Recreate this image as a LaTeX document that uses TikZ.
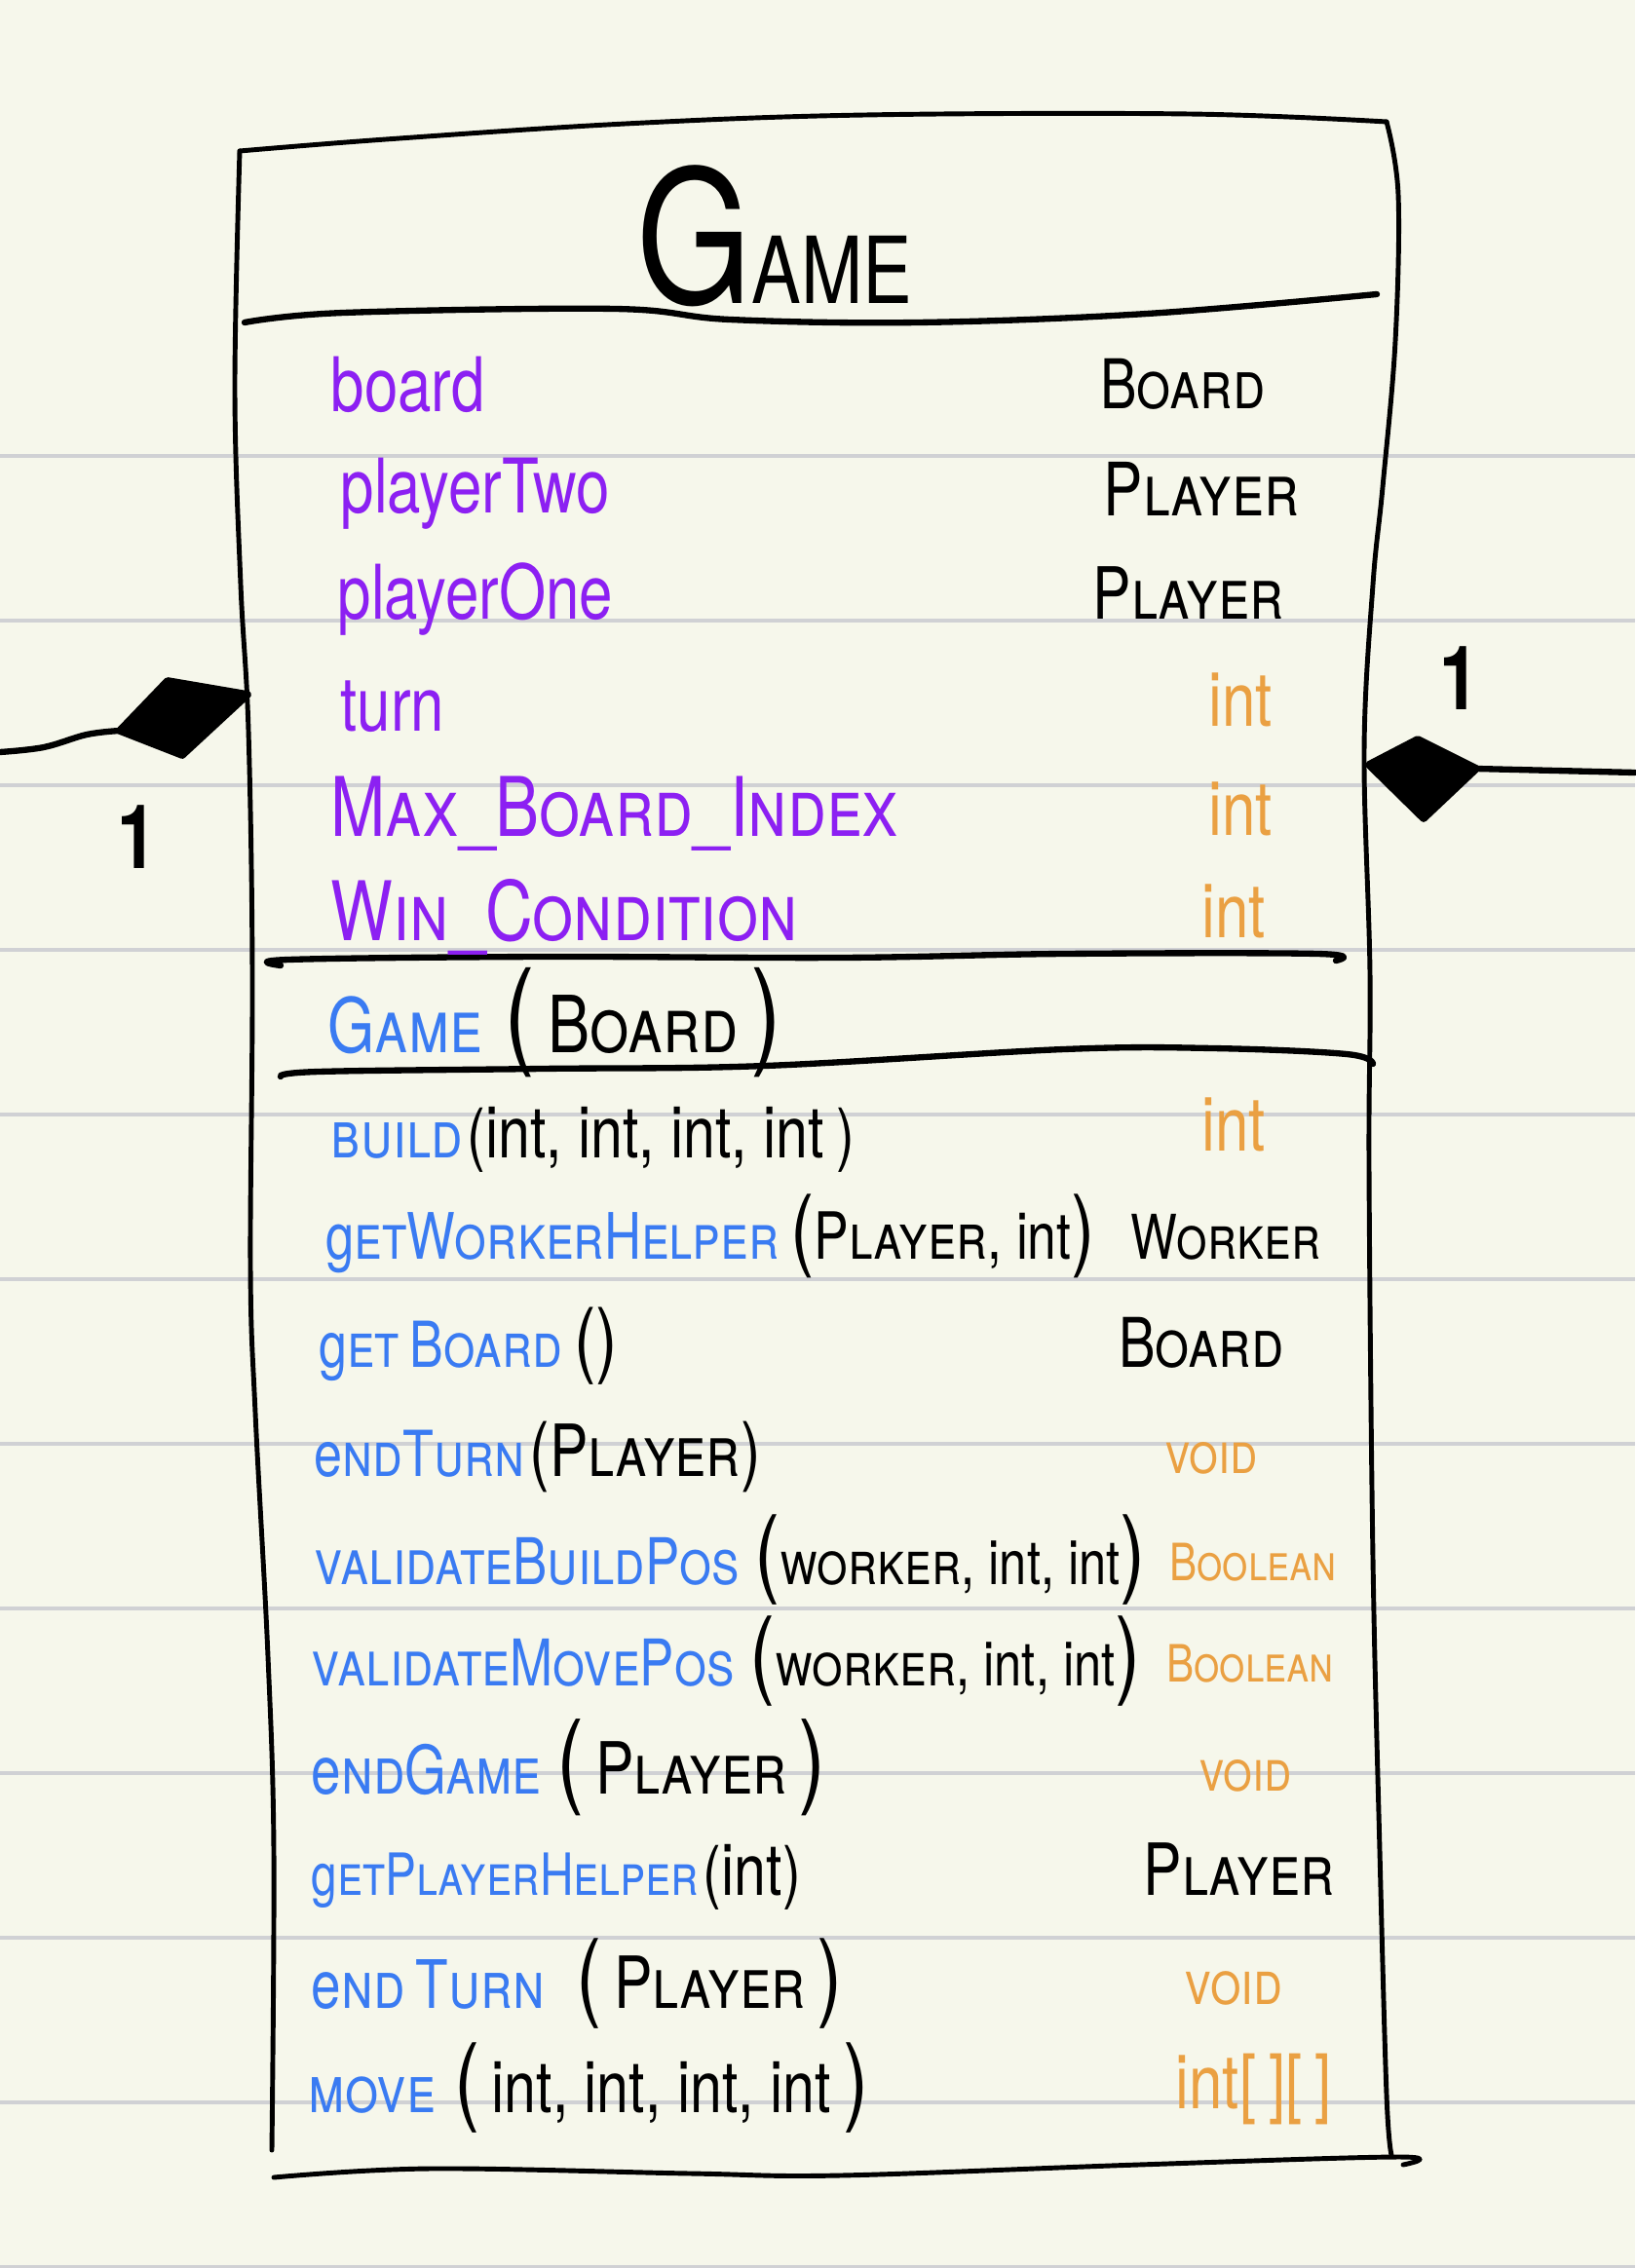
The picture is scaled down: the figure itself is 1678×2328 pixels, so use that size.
\documentclass[tikz,border=0pt]{standalone}
\usepackage{fontspec}
\setmainfont[FakeStretch=0.8]{TeX Gyre Heros}
\usetikzlibrary{positioning}

\definecolor{paper}{RGB}{246,247,235}
\definecolor{ruleline}{RGB}{208,209,212}
\definecolor{attrpurple}{RGB}{140,32,242}
\definecolor{methblue}{RGB}{58,123,242}
\definecolor{typeorange}{RGB}{234,160,66}

\newcommand{\lpar}[1]{{\fontsize{#1}{#1}\selectfont(}}
\newcommand{\rpar}[1]{{\fontsize{#1}{#1}\selectfont)}}
\newcommand{\msize}[1]{\fontsize{#1}{24}\selectfont\scshape}

\begin{document}
\begin{tikzpicture}[
        x=0.01cm, y=-0.01cm,
        attr/.style={anchor=base west, inner sep=0pt, text=attrpurple,
            font=\fontsize{22}{26}\selectfont},
        meth/.style={anchor=base west, inner sep=0pt, text=methblue,
            font=\msize{19.5}},
        params/.style={anchor=base west, inner sep=0pt, text=black,
            font=\fontsize{21}{24}\selectfont},
        ktype/.style={anchor=base west, inner sep=0pt, text=black,
            font=\msize{20}},
        ptype/.style={anchor=base west, inner sep=0pt, text=typeorange,
            font=\fontsize{22}{24}\selectfont},
        mult/.style={anchor=base, inner sep=0pt, font=\fontsize{26}{26}\selectfont\bfseries},
        boxline/.style={line width=1.4pt, line cap=round, line join=round},
        divider/.style={line width=1.8pt, line cap=round, line join=round},
        ruling/.style={draw=ruleline, line width=1.4pt},
        diamondfill/.style={fill=black, draw=black, line width=2.2pt, line join=round}
    ]
    % paper
    \fill[paper] (0,0) rectangle (1678,2328);
    \useasboundingbox (0,0) rectangle (1678,2328);
    \draw[ruling] (0,468) -- (1678,468)  (0,637) -- (1678,637)
        (0,806) -- (1678,806)  (0,975) -- (1678,975)
        (0,1144) -- (1678,1144)  (0,1313) -- (1678,1313)
        (0,1482) -- (1678,1482)  (0,1651) -- (1678,1651)
        (0,1820) -- (1678,1820)  (0,1989) -- (1678,1989)
        (0,2158) -- (1678,2158)  (0,2327) -- (1678,2327);

    % class box
    \draw[boxline] plot[smooth, tension=0.6] coordinates {(246,155) (396,143) (642,127) (888,118) (1220,117) (1423,125)};
    \draw[boxline] plot[smooth, tension=0.6] coordinates {(1423,125) (1435,200) (1432,350) (1419,500) (1409,600) (1400,770) (1406,1000) (1405,1200) (1409,1600) (1416,1900) (1423,2150) (1428,2212)};
    \draw[boxline] plot[smooth, tension=0.6] coordinates {(246,155) (241,400) (247,600) (255,750) (259,1000) (257,1300) (262,1450) (275,1700) (281,1900) (279,2207)};
    \draw[boxline] plot[smooth, tension=0.6] coordinates {(281,2235) (441,2226) (709,2231) (862,2233) (1168,2222) (1436,2214) (1440,2222)};

    % compartments
    \draw[divider] plot[smooth, tension=0.6] coordinates {(251,331) (353,321) (631,317) (749,328) (942,331) (1177,322) (1413,302)};
    \draw[divider] plot[smooth, tension=0.6] coordinates {(288,991) (296,985) (556,982) (862,983) (1092,979) (1352,979) (1371,986)};
    \draw[divider] plot[smooth, tension=0.6] coordinates {(288,1105) (327,1100) (556,1097) (785,1094) (1092,1077) (1245,1076) (1382,1082) (1409,1092)};

    % title
    \node[anchor=base west, inner sep=0pt] (title) at (653,312)
        {{\fontsize{54}{54}\selectfont G}{\fontsize{27}{27}\selectfont AME}};

    % attributes
    \node[attr] (a1) at (339,423) {board};
    \node[attr] (a2) at (349,527) {playerTwo};
    \node[attr] (a3) at (346,636) {playerOne};
    \node[attr] (a4) at (349,750) {turn};
    \node[attr, font=\msize{24}] (a5) at (339,858) {Max\_Board\_Index};
    \node[attr, font=\msize{24}] (a6) at (339,965) {Win\_Condition};

    \node[ktype] (t1) at (1129,420) {Board};
    \node[ktype, font=\msize{21.5}] (t2) at (1132,530) {Player};
    \node[ktype, font=\msize{21}] (t3) at (1121,636) {Player};
    \node[ptype] (t4) at (1240,745) {int};
    \node[ptype] (t5) at (1240,857) {int};
    \node[ptype] (t6) at (1233,962) {int};

    % constructor
    \node[meth, font=\msize{22}] (ctor) at (336,1080) {Game};
    \node[params, font=\msize{23}] (ctorp) at ([xshift=6pt]ctor.base east)
        {\lpar{34}\,Board\,\rpar{34}};

    % operations
    \node[meth] (n1) at (339,1188) {build};
    \node[params] (p1) at ([xshift=1pt]n1.base east) {\lpar{20}int, int, int, int\,\rpar{20}};
    \node[ptype] (r1) at (1233,1181) {int};

    \node[meth, font=\msize{18.7}] (n2) at (334,1292) {\textulc{g}etWorkerHelper};
    \node[params, font=\fontsize{19}{24}\selectfont] (p2) at ([xshift=3pt]n2.base east)
        {\lpar{26}{\scshape Player}, int\rpar{26}};
    \node[ktype, font=\msize{18}] (r2) at (1160,1292) {Worker};

    \node[meth, font=\msize{18.5}] (n3) at (327,1403) {\textulc{g}et\,Board};
    \node[params] (p3) at ([xshift=3pt]n3.base east) {\lpar{24}\rpar{24}};
    \node[ktype] (r3) at (1148,1403) {Board};

    \node[meth, font=\msize{18.5}] (n4) at (322,1515) {\textulc{e}ndTurn};
    \node[params] (p4) at ([xshift=1pt]n4.base east) {\lpar{22}{\scshape Player}\rpar{22}};
    \node[ptype, font=\msize{17}] (r4) at (1195,1512) {void};

    \node[meth, font=\msize{18.8}] (n5) at (322,1626) {validateBuildPos};
    \node[params, font=\fontsize{18}{24}\selectfont] (p5) at ([xshift=4pt]n5.base east)
        {\lpar{28}{\scshape worker}, int, int\rpar{28}};
    \node[ptype, font=\msize{15}] (r5) at (1200,1622) {Boolean};

    \node[meth, font=\msize{18.8}] (n6) at (319,1730) {validateMovePos};
    \node[params, font=\fontsize{18}{24}\selectfont] (p6) at ([xshift=4pt]n6.base east)
        {\lpar{28}{\scshape worker}, int, int\rpar{28}};
    \node[ptype, font=\msize{15}] (r6) at (1197,1726) {Boolean};

    \node[meth] (n7) at (319,1841) {\textulc{e}ndGame};
    \node[params] (p7) at ([xshift=4pt]n7.base east) {\lpar{30}\,{\scshape Player}\,\rpar{30}};
    \node[ptype, font=\msize{17}] (r7) at (1230,1838) {void};

    \node[meth, font=\msize{17}] (n8) at (319,1945) {\textulc{g}etPlayerHelper};
    \node[params] (p8) at ([xshift=1pt]n8.base east) {\lpar{20}int\rpar{20}};
    \node[ktype, font=\msize{21}] (r8) at (1173,1945) {Player};

    \node[meth] (n9) at (319,2061) {\textulc{e}nd\,Turn};
    \node[params] (p9) at ([xshift=9pt]n9.base east) {\lpar{28}\,{\scshape Player}\,\rpar{28}};
    \node[ptype, font=\msize{18}] (r9) at (1215,2057) {void};

    \node[meth] (n10) at (316,2168) {move};
    \node[params] (p10) at ([xshift=5pt]n10.base east) {\lpar{28}\,int, int, int, int\,\rpar{28}};
    \node[ptype] (r10) at (1206,2164) {int[\,][\,]};

    % left composition
    \coordinate (dl1) at (123,750);
    \coordinate (dl2) at (172,699);
    \coordinate (dl3) at (254,713);
    \coordinate (dl4) at (187,775);
    \coordinate (lend) at (0,772);
    \fill[diamondfill] (dl1) -- (dl2) -- (dl3) -- (dl4) -- cycle;
    \draw[boxline, line width=1.8pt] plot[smooth, tension=0.6] coordinates {(lend) (45,767) (89,754) (dl1)};
    \node[mult] (ml) at (141,891) {1};

    % right composition
    \coordinate (dr1) at (1405,785);
    \coordinate (dr2) at (1455,759);
    \coordinate (dr3) at (1515,789);
    \coordinate (dr4) at (1461,840);
    \coordinate (rend) at (1678,793);
    \fill[diamondfill] (dr1) -- (dr2) -- (dr3) -- (dr4) -- cycle;
    \draw[boxline, line width=1.8pt] (dr3) -- (rend);
    \node[mult] (mr) at (1498,728) {1};
\end{tikzpicture}
\end{document}
